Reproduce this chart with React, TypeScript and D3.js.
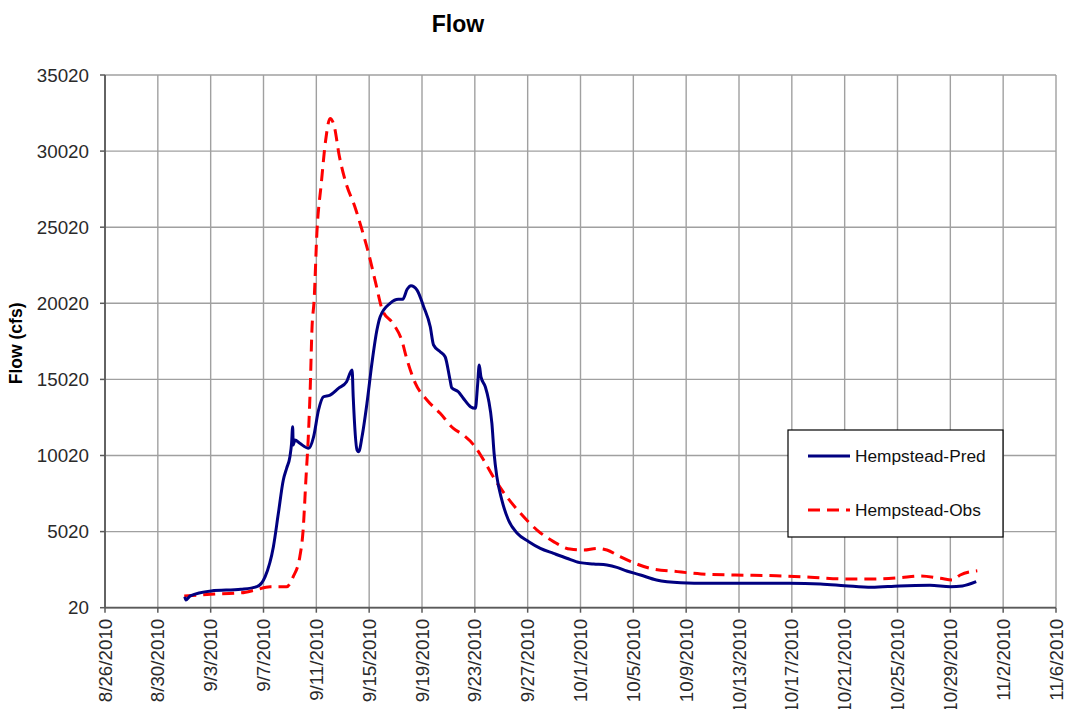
import * as d3 from 'd3';

// Hempstead flow, predicted vs observed (cfs)
const predTimes = [
  '2010-09-01 01', '2010-09-01 03', '2010-09-01 11', '2010-09-03 01', '2010-09-05 07',
  '2010-09-06 12', '2010-09-07 03', '2010-09-07 18', '2010-09-08 03', '2010-09-08 12',
  '2010-09-08 18', '2010-09-09 00', '2010-09-09 03', '2010-09-09 05', '2010-09-09 06',
  '2010-09-09 09', '2010-09-09 18', '2010-09-10 10', '2010-09-10 19', '2010-09-11 04',
  '2010-09-11 13', '2010-09-12 01', '2010-09-12 16', '2010-09-13 07', '2010-09-13 17',
  '2010-09-13 19', '2010-09-14 02', '2010-09-14 05', '2010-09-14 11', '2010-09-14 20',
  '2010-09-15 05', '2010-09-15 14', '2010-09-15 20', '2010-09-16 14', '2010-09-17 05',
  '2010-09-17 13', '2010-09-17 21', '2010-09-18 04', '2010-09-18 15', '2010-09-19 03',
  '2010-09-19 15', '2010-09-19 21', '2010-09-20 09', '2010-09-20 18', '2010-09-21 03',
  '2010-09-21 06', '2010-09-21 18', '2010-09-22 03', '2010-09-22 16', '2010-09-23 01',
  '2010-09-23 05', '2010-09-23 08', '2010-09-23 11', '2010-09-23 19', '2010-09-24 01',
  '2010-09-24 07', '2010-09-24 11', '2010-09-24 16', '2010-09-25 01', '2010-09-25 13',
  '2010-09-26 05', '2010-09-27 02', '2010-09-27 23', '2010-09-28 23', '2010-09-29 23',
  '2010-09-30 23', '2010-10-02 00', '2010-10-03 00', '2010-10-03 18', '2010-10-04 12',
  '2010-10-05 13', '2010-10-06 18', '2010-10-08 14', '2010-10-10 15', '2010-10-13 06',
  '2010-10-16 20', '2010-10-19 04', '2010-10-21 00', '2010-10-23 01', '2010-10-25 03',
  '2010-10-27 11', '2010-10-29 00', '2010-10-29 22', '2010-10-30 23',
];
const predFlow = [
  740, 525, 800, 1120, 1230,
  1400, 2060, 4030, 6220, 8410,
  9180, 9940, 10820, 11910, 10710,
  11040, 10820, 10490, 11250, 13010,
  13880, 13990, 14430, 14870, 15640,
  13880, 10380, 10270, 11250, 13450,
  16080, 18250, 19140, 20020, 20280,
  20280, 20940, 21180, 20890, 19800,
  18480, 17280, 16840, 16510, 14980,
  14470, 14210, 13780, 13230, 13120,
  14650, 15960, 15200, 14540, 13670,
  12130, 10160, 8630, 7100, 5780,
  4910, 4360, 3920, 3590, 3270,
  2980, 2890, 2820, 2670, 2430,
  2170, 1840, 1660, 1620, 1620,
  1620, 1580, 1470, 1360, 1450,
  1490, 1400, 1450, 1730,
];

const obsTimes = [
  '2010-09-01 00', '2010-09-03 00', '2010-09-05 08', '2010-09-06 09', '2010-09-07 12',
  '2010-09-08 18', '2010-09-09 06', '2010-09-09 18', '2010-09-10 00', '2010-09-10 05',
  '2010-09-10 10', '2010-09-10 13', '2010-09-10 16', '2010-09-10 20', '2010-09-11 01',
  '2010-09-11 09', '2010-09-11 17', '2010-09-12 01', '2010-09-12 08', '2010-09-12 18',
  '2010-09-13 06', '2010-09-13 22', '2010-09-14 11', '2010-09-14 23', '2010-09-15 12',
  '2010-09-16 00', '2010-09-16 19', '2010-09-17 11', '2010-09-17 21', '2010-09-18 12',
  '2010-09-19 09', '2010-09-20 09', '2010-09-21 09', '2010-09-22 03', '2010-09-22 22',
  '2010-09-23 16', '2010-09-24 13', '2010-09-25 10', '2010-09-26 11', '2010-09-27 17',
  '2010-09-28 23', '2010-09-30 05', '2010-10-01 06', '2010-10-02 06', '2010-10-03 00',
  '2010-10-04 00', '2010-10-05 00', '2010-10-06 06', '2010-10-08 08', '2010-10-10 03',
  '2010-10-12 17', '2010-10-15 20', '2010-10-18 10', '2010-10-21 00', '2010-10-23 01',
  '2010-10-25 03', '2010-10-26 16', '2010-10-28 06', '2010-10-29 03', '2010-10-29 18',
  '2010-10-31 01',
];
const obsFlow = [
  790, 900, 1000, 1180, 1400,
  1400, 2060, 3370, 5120, 8410,
  11690, 14540, 18270, 20240, 24620,
  27900, 30750, 32170, 31730, 29650,
  27900, 26370, 24840, 23300, 21330,
  19580, 18710, 17610, 16290, 14760,
  13670, 12790, 11800, 11370, 10710,
  9720, 8410, 7310, 6220, 5120,
  4360, 3870, 3810, 3920, 3810,
  3370, 2980, 2610, 2390, 2240,
  2170, 2120, 2020, 1910, 1910,
  1990, 2100, 1950, 1840, 2170,
  2450,
];

const yTicks = [20, 5020, 10020, 15020, 20020, 25020, 30020, 35020];
const xStart = '2010-08-26 00';
const xEnd = '2010-11-06 00';
const seriesNames = ['Hempstead-Pred', 'Hempstead-Obs'];

const parse = d3.utcParse('%Y-%m-%d %H');
const fmt = d3.utcFormat('%-m/%-d/%Y');

const W = 1065;
const H = 709;
const left = 105;
const right = 1056;
const top = 75;
const bottom = 607.7;
const font = 'Liberation Sans, Arial, sans-serif';

export default function App() {
  const start = parse(xStart) as Date;
  const end = parse(xEnd) as Date;
  const x = d3.scaleUtc().domain([start, end]).range([left, right]);
  const y = d3.scaleLinear().domain([20, 35020]).range([bottom, top]);
  const xTicks = d3.range(0, 19).map(i => d3.utcDay.offset(start, i * 4));

  const line = d3.line<[Date, number]>()
    .x(d => x(d[0]))
    .y(d => y(d[1]))
    .curve(d3.curveMonotoneX);

  const pred = predTimes.map((t, i) => [parse(t) as Date, predFlow[i]] as [Date, number]);
  const obs = obsTimes.map((t, i) => [parse(t) as Date, obsFlow[i]] as [Date, number]);

  return (
    <svg
      width={W}
      height={H}
      style={{ position: 'absolute', left: 0, top: 0, background: '#fff' }}
      fontFamily={font}
    >
      <rect x={0} y={0} width={W} height={H} fill="#fff" />
      <text x={458} y={32} textAnchor="middle" fontSize={23} fontWeight="bold" fill="#000">Flow</text>
      <text
        transform={`translate(22,${(top + bottom) / 2 + 2}) rotate(-90)`}
        textAnchor="middle"
        fontSize={17.5}
        fontWeight="bold"
        fill="#000"
      >
        Flow (cfs)
      </text>

      {/* grid */}
      {yTicks.map(t => (
        <line key={'gy' + t} x1={left} x2={right} y1={y(t)} y2={y(t)} stroke="#a0a0a0" strokeWidth={1.4} />
      ))}
      {xTicks.map(t => (
        <line key={'gx' + t.getTime()} x1={x(t)} x2={x(t)} y1={top} y2={bottom} stroke="#a0a0a0" strokeWidth={1.4} />
      ))}

      {/* axes */}
      <line x1={left} x2={left} y1={top} y2={bottom} stroke="#5a5a5a" strokeWidth={1.8} />
      <line x1={left} x2={right} y1={bottom} y2={bottom} stroke="#5a5a5a" strokeWidth={1.8} />
      {yTicks.map(t => (
        <g key={'ty' + t}>
          <line x1={left - 5} x2={left} y1={y(t)} y2={y(t)} stroke="#5a5a5a" strokeWidth={1.5} />
          <text x={89} y={y(t)} dy="0.35em" textAnchor="end" fontSize={18.8} fill="#2a2a2a">{t}</text>
        </g>
      ))}
      {xTicks.map(t => (
        <g key={'tx' + t.getTime()}>
          <line x1={x(t)} x2={x(t)} y1={bottom} y2={bottom + 5} stroke="#5a5a5a" strokeWidth={1.5} />
          <text
            transform={`translate(${x(t)},${bottom + 11}) rotate(-90)`}
            dy="0.35em"
            textAnchor="end"
            fontSize={18.8}
            fill="#2a2a2a"
          >
            {fmt(t)}
          </text>
        </g>
      ))}

      {/* series */}
      <path d={line(obs) ?? ''} fill="none" stroke="#ff0000" strokeWidth={3} strokeDasharray="12,7" />
      <path d={line(pred) ?? ''} fill="none" stroke="#000080" strokeWidth={3} />

      {/* legend */}
      <rect x={788} y={430} width={215} height={107} fill="#fff" stroke="#000" strokeWidth={1.2} />
      <line x1={808} x2={850} y1={456} y2={456} stroke="#000080" strokeWidth={3} />
      <text x={855} y={456} dy="0.35em" fontSize={17.3} fill="#111">{seriesNames[0]}</text>
      <line x1={808} x2={850} y1={510} y2={510} stroke="#ff0000" strokeWidth={3} strokeDasharray="12,7" />
      <text x={855} y={510} dy="0.35em" fontSize={17.3} fill="#111">{seriesNames[1]}</text>
    </svg>
  );
}
